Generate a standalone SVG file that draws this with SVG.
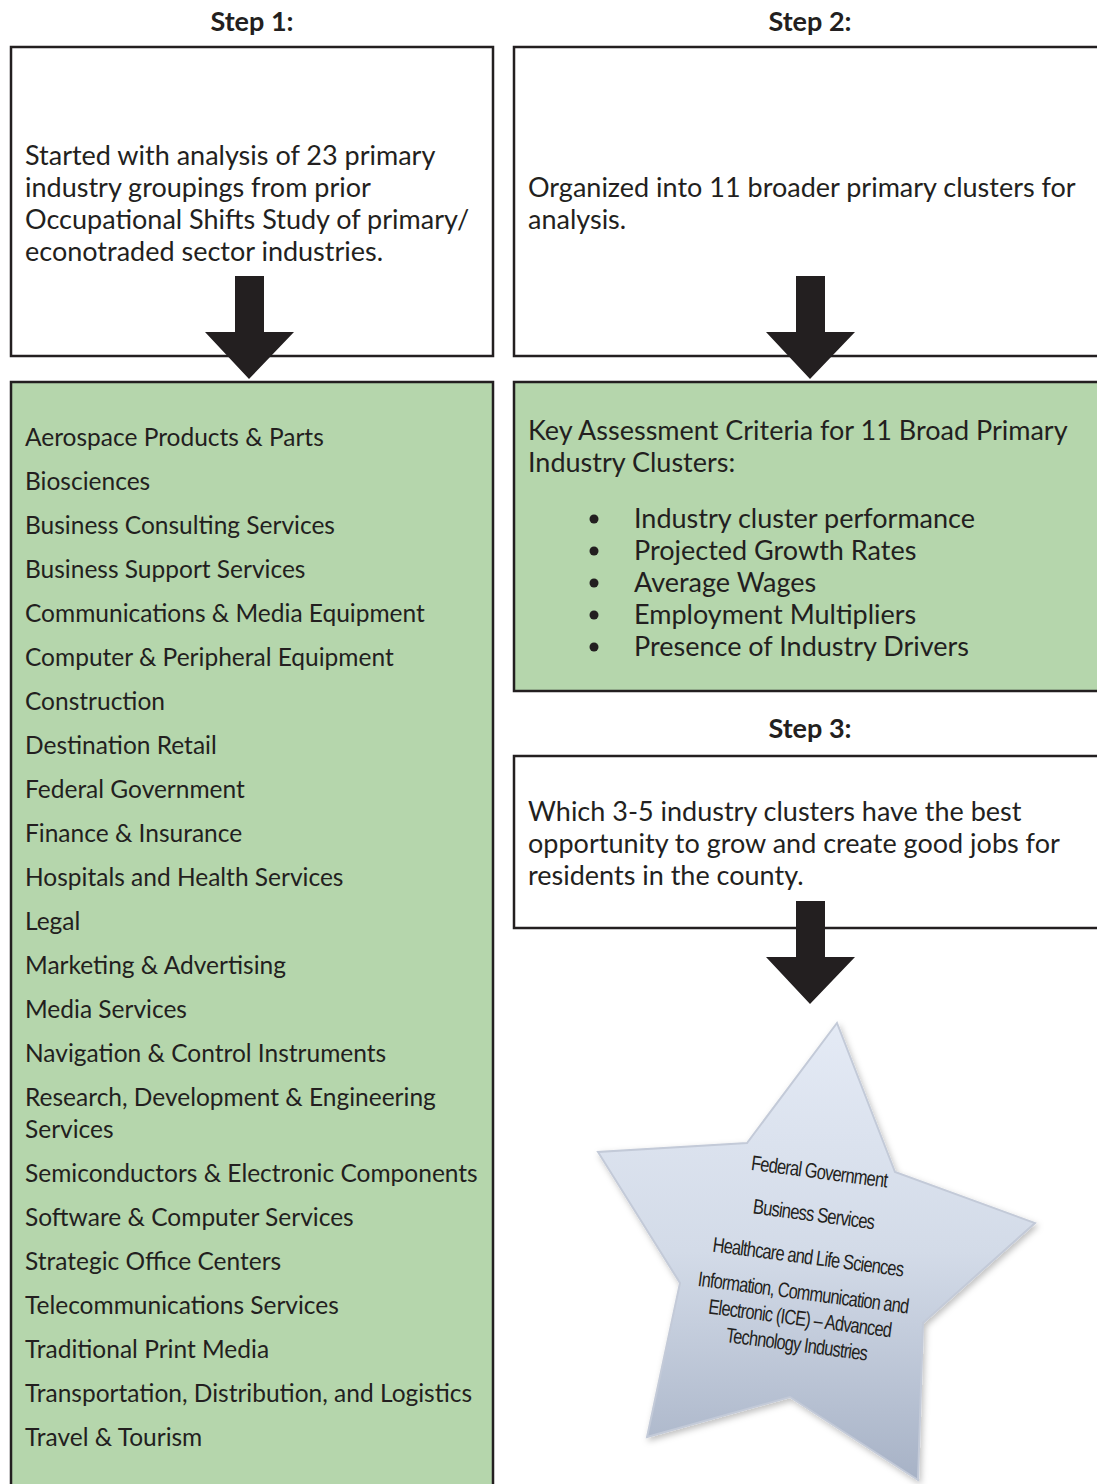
<svg xmlns="http://www.w3.org/2000/svg" width="1097" height="1484" viewBox="0 0 1097 1484">
<style>
.box{fill:#ffffff;stroke:#231f20;stroke-width:2.5}
.gbox{fill:#b5d6ac;stroke:#231f20;stroke-width:2.5}
.t{font-family:Lato,"Open Sans","Liberation Sans",sans-serif;font-size:24.5px;fill:#231f20}
.p{font-family:Lato,"Open Sans","Liberation Sans",sans-serif;font-size:27px;fill:#231f20}
.h{font-family:Lato,"Open Sans","Liberation Sans",sans-serif;font-size:27px;font-weight:bold;fill:#231f20;text-anchor:middle}
.arrow{fill:#231f20}
.st{font-family:"Liberation Sans",Arial,sans-serif;font-size:21px;fill:#231f20;text-anchor:middle;letter-spacing:-1px}
</style>
<defs>
<linearGradient id="sg" x1="0" y1="0" x2="0" y2="1">
<stop offset="0" stop-color="#e4eaf5"/>
<stop offset="0.5" stop-color="#d3dbe8"/>
<stop offset="1" stop-color="#a7b2c6"/>
</linearGradient>
<filter id="sh" x="-10%" y="-10%" width="130%" height="130%">
<feDropShadow dx="2" dy="3" stdDeviation="3" flood-color="#000" flood-opacity="0.25"/>
</filter>
</defs>

<text class="h" x="252" y="31">Step 1:</text>
<text class="h" x="810" y="31">Step 2:</text>

<g id="step1">
<rect class="box" x="11" y="47" width="482" height="309"/>
<text class="p" x="25" y="165">Started with analysis of 23 primary</text>
<text class="p" x="25" y="197">industry groupings from prior</text>
<text class="p" x="25" y="229">Occupational Shifts Study of primary/</text>
<text class="p" x="25" y="261">econotraded sector industries.</text>
</g>

<g id="step2">
<rect class="box" x="514" y="47" width="600" height="309"/>
<text class="p" x="528" y="197">Organized into 11 broader primary clusters for</text>
<text class="p" x="528" y="229">analysis.</text>
</g>

<g id="industries">
<rect class="gbox" x="11" y="382" width="482" height="1120"/>
<text class="t" x="25" y="446">Aerospace Products &amp; Parts</text>
<text class="t" x="25" y="490">Biosciences</text>
<text class="t" x="25" y="534">Business Consulting Services</text>
<text class="t" x="25" y="578">Business Support Services</text>
<text class="t" x="25" y="622">Communications &amp; Media Equipment</text>
<text class="t" x="25" y="666">Computer &amp; Peripheral Equipment</text>
<text class="t" x="25" y="710">Construction</text>
<text class="t" x="25" y="754">Destination Retail</text>
<text class="t" x="25" y="798">Federal Government</text>
<text class="t" x="25" y="842">Finance &amp; Insurance</text>
<text class="t" x="25" y="886">Hospitals and Health Services</text>
<text class="t" x="25" y="930">Legal</text>
<text class="t" x="25" y="974">Marketing &amp; Advertising</text>
<text class="t" x="25" y="1018">Media Services</text>
<text class="t" x="25" y="1062">Navigation &amp; Control Instruments</text>
<text class="t" x="25" y="1106">Research, Development &amp; Engineering</text>
<text class="t" x="25" y="1138">Services</text>
<text class="t" x="25" y="1182">Semiconductors &amp; Electronic Components</text>
<text class="t" x="25" y="1226">Software &amp; Computer Services</text>
<text class="t" x="25" y="1270">Strategic Office Centers</text>
<text class="t" x="25" y="1314">Telecommunications Services</text>
<text class="t" x="25" y="1358">Traditional Print Media</text>
<text class="t" x="25" y="1402">Transportation, Distribution, and Logistics</text>
<text class="t" x="25" y="1446">Travel &amp; Tourism</text>
</g>

<g id="criteria">
<rect class="gbox" x="514" y="382" width="600" height="309"/>
<text class="p" x="528" y="440">Key Assessment Criteria for 11 Broad Primary</text>
<text class="p" x="528" y="472">Industry Clusters:</text>
<g fill="#231f20">
<circle cx="594" cy="519" r="4.5"/>
<circle cx="594" cy="551" r="4.5"/>
<circle cx="594" cy="583" r="4.5"/>
<circle cx="594" cy="615" r="4.5"/>
<circle cx="594" cy="647" r="4.5"/>
</g>
<text class="p" x="634" y="528">Industry cluster performance</text>
<text class="p" x="634" y="560">Projected Growth Rates</text>
<text class="p" x="634" y="592">Average Wages</text>
<text class="p" x="634" y="624">Employment Multipliers</text>
<text class="p" x="634" y="656">Presence of Industry Drivers</text>
</g>

<text class="h" x="810" y="738">Step 3:</text>

<g id="step3">
<rect class="box" x="514" y="756" width="600" height="172"/>
<text class="p" x="528" y="821">Which 3-5 industry clusters have the best</text>
<text class="p" x="528" y="853">opportunity to grow and create good jobs for</text>
<text class="p" x="528" y="885">residents in the county.</text>
</g>

<g id="connectors">
<polygon class="arrow" points="235,276 264,276 264,332 294,332 249,379 205,332 235,332"/>
<polygon class="arrow" points="796,276 825,276 825,332 855,332 810,379 766,332 796,332"/>
<polygon class="arrow" points="796,901 825,901 825,957 855,957 810,1004 766,957 796,957"/>
</g>

<g id="star">
<polygon points="837,1023 895,1172 1035,1223 923,1323 918,1480 790,1397 647,1437 680,1283 598,1152 747,1143" fill="url(#sg)" stroke="#c3cad8" stroke-width="2" filter="url(#sh)"/>
<g transform="rotate(7.5 808 1257)">
<text class="st" x="808" y="1178" textLength="137" lengthAdjust="spacingAndGlyphs">Federal Government</text>
<text class="st" x="808" y="1221" textLength="122" lengthAdjust="spacingAndGlyphs">Business Services</text>
<text class="st" x="808" y="1264" textLength="192" lengthAdjust="spacingAndGlyphs">Healthcare and Life Sciences</text>
<text class="st" x="808" y="1300" textLength="212" lengthAdjust="spacingAndGlyphs">Information, Communication and</text>
<text class="st" x="808" y="1326" textLength="184" lengthAdjust="spacingAndGlyphs">Electronic (ICE) – Advanced</text>
<text class="st" x="808" y="1352" textLength="142" lengthAdjust="spacingAndGlyphs">Technology Industries</text>
</g>
</g>
</svg>
